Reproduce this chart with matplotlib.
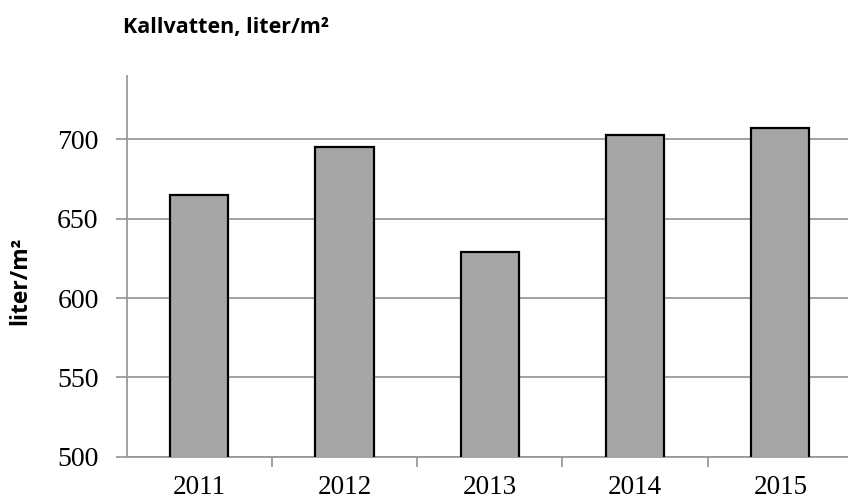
import matplotlib.pyplot as plt

years = ["2011", "2012", "2013", "2014", "2015"]
values = [665, 695, 629, 703, 707]
yticks = [500, 550, 600, 650, 700]

W, H = 848, 503
fig = plt.figure(figsize=(W / 100, H / 100), dpi=100)
# axes: left 126.5px, right ~853px (past the edge), bottom 456.7px, top 76px
ax = fig.add_axes([126.5 / W, (H - 456.7) / H, (853 - 126.5) / W, (456.7 - 76) / H])

x = range(len(years))
ax.bar(x, values, width=0.4, color="#a6a6a6", edgecolor="black", linewidth=1.6, zorder=3)

ax.set_xlim(-0.5, 4.5)
ax.set_ylim(500, 740)
ax.set_yticks(yticks)
ax.set_yticklabels([str(v) for v in yticks], family="Liberation Serif", fontsize=20)
ax.yaxis.grid(True, color="#9a9a9a", linewidth=1.3, zorder=0)

ax.set_xticks(list(x))
ax.set_xticklabels(years, family="Liberation Serif", fontsize=19.5)
ax.tick_params(axis="x", length=0, pad=13.5)
ax.set_xticks([0.5, 1.5, 2.5, 3.5], minor=True)
ax.tick_params(axis="x", which="minor", length=7, color="#9a9a9a", width=1.3)
ax.tick_params(axis="y", length=8, color="#9a9a9a", width=1.3, pad=12)

for s in ["top", "right"]:
    ax.spines[s].set_visible(False)
for s in ["left", "bottom"]:
    ax.spines[s].set_color("#9a9a9a")
    ax.spines[s].set_linewidth(1.3)

fig.text(20 / W, 1 - 281 / H, "liter/m²", family="Open Sans", fontweight="bold",
         fontsize=16.5, rotation=90, va="center", ha="center")
fig.text(123 / W, 1 - 27 / H, "Kallvatten, liter/m²", family="Open Sans", fontweight="bold",
         fontsize=15.5, va="center", ha="left")

fig.savefig("out.png", dpi=100)
